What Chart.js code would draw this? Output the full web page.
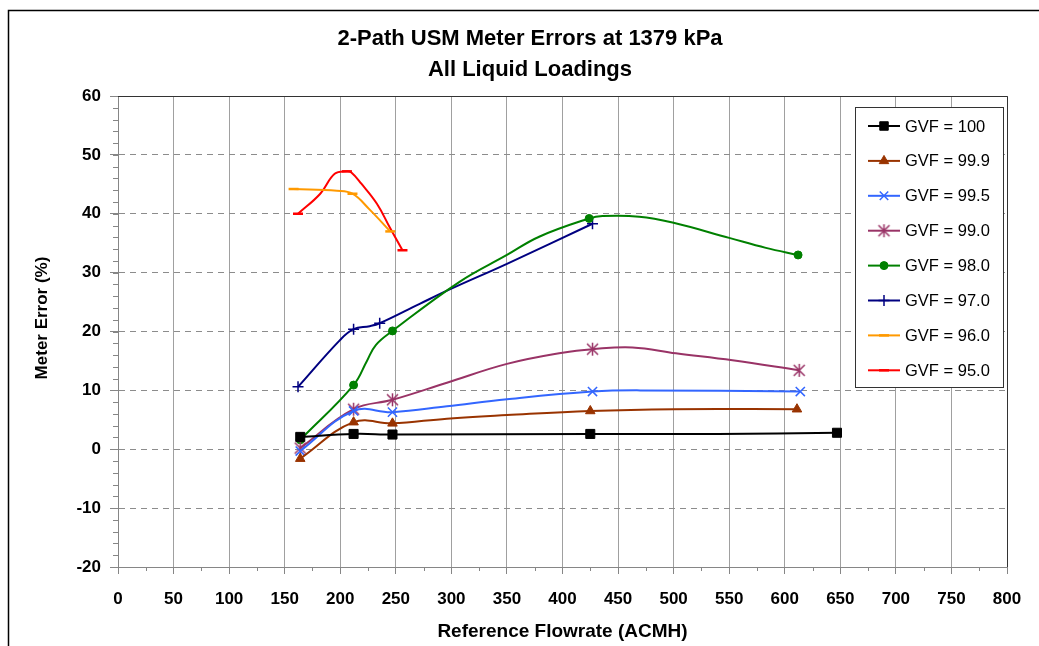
<!DOCTYPE html>
<html>
<head>
<meta charset="utf-8">
<script src="https://cdn.jsdelivr.net/npm/chart.js@4.4.0/dist/chart.umd.min.js"></script>
<style>
  body { margin: 0; background: #fff; }
</style>
</head>
<body>
<canvas id="myChart" width="1039" height="646"></canvas>
<script>
// flowrate (ACMH) / meter error (%) per GVF; mark = 1 where a measured point is drawn
let flow100 = [164, 212, 247, 425, 540, 647];
let err100  = [2.1, 2.6, 2.5, 2.6, 2.6, 2.8];
let mark100 = [1, 1, 1, 1, 0, 1];

let flow999 = [164, 212, 247, 296, 350, 425, 500, 611];
let err999  = [-1.6, 4.6, 4.4, 5.2, 5.8, 6.5, 6.8, 6.8];
let mark999 = [1, 1, 1, 0, 0, 1, 0, 1];

let flow995 = [164, 212, 247, 296, 350, 427, 470, 614];
let err995  = [-0.3, 6.5, 6.3, 7.3, 8.5, 9.8, 10.0, 9.8];
let mark995 = [1, 1, 1, 0, 0, 1, 0, 1];

let flow990 = [164, 212, 247, 296, 350, 400, 427, 463, 502, 553, 613];
let err990  = [0.2, 6.8, 8.4, 11.3, 14.5, 16.4, 17.0, 17.3, 16.3, 15.1, 13.4];
let mark990 = [1, 1, 1, 0, 0, 0, 1, 0, 0, 0, 1];

let flow980 = [164, 212, 224, 232, 247, 307, 350, 379, 424, 436, 469, 499, 550, 583, 612];
let err980  = [1.6, 10.9, 15.0, 17.7, 20.1, 28.4, 33.0, 36.1, 39.2, 39.6, 39.5, 38.5, 35.9, 34.2, 33.0];
let mark980 = [1, 1, 0, 0, 1, 0, 0, 0, 1, 0, 0, 0, 0, 0, 1];

let flow970 = [162, 199.5, 212, 226.5, 235.5, 271.5, 298, 350, 427];
let err970  = [10.6, 18.5, 20.4, 20.9, 21.4, 24.7, 27.1, 31.5, 38.3];
let mark970 = [1, 0, 1, 0, 1, 0, 0, 0, 1];

let flow960 = [158, 197, 211, 226.5, 245];
let err960  = [44.2, 43.9, 43.4, 40.7, 37.0];
let mark960 = [1, 0, 1, 0, 1];

let flow950 = [162, 182, 195, 206, 210, 219, 233, 244.5, 256];
let err950  = [40.0, 43.4, 46.8, 47.2, 47.0, 45.1, 41.7, 37.7, 33.8];
let mark950 = [1, 0, 0, 1, 0, 0, 0, 0, 1];

let xTicks = [0, 50, 100, 150, 200, 250, 300, 350, 400, 450, 500, 550, 600, 650, 700, 750, 800];
let yTicks = [-20, -10, 0, 10, 20, 30, 40, 50, 60];

// Excel style asterisk marker (x with a vertical bar)
function asterisk(color) {
    let cv = document.createElement('canvas');
    cv.width = 15;
    cv.height = 15;
    let g = cv.getContext('2d');
    g.strokeStyle = color;
    g.lineWidth = 1.5;
    g.beginPath();
    g.moveTo(2, 2); g.lineTo(13, 13);
    g.moveTo(13, 2); g.lineTo(2, 13);
    g.moveTo(7.5, 1); g.lineTo(7.5, 14);
    g.stroke();
    return cv;
}

function series(label, xs, ys, marks, color, style, radius, bw) {
    return {
        label: label,
        data: xs.map((x, i) => ({ x: x, y: ys[i] })),
        borderColor: color,
        backgroundColor: color,
        borderWidth: 2,
        pointStyle: style,
        pointRadius: marks.map(m => m ? radius : 0),
        pointHoverRadius: 0,
        pointBorderWidth: bw,
        pointBackgroundColor: color,
        pointBorderColor: color,
        tension: 0.4
    };
}

let datasets = [
    series('GVF = 100',  flow100, err100, mark100, '#000000', 'rect', 6.4, 1),
    series('GVF = 99.9', flow999, err999, mark999, '#993300', 'triangle', 5.5, 1),
    series('GVF = 99.5', flow995, err995, mark995, '#3366FF', 'crossRot', 6.5, 1.5),
    series('GVF = 99.0', flow990, err990, mark990, '#993366', asterisk('#993366'), 7, 1.5),
    series('GVF = 98.0', flow980, err980, mark980, '#008000', 'circle', 4, 1),
    series('GVF = 97.0', flow970, err970, mark970, '#000080', 'cross', 5.5, 1.5),
    series('GVF = 96.0', flow960, err960, mark960, '#FF9900', 'line', 5, 2.5),
    series('GVF = 95.0', flow950, err950, mark950, '#FF0000', 'line', 5, 2.5)
];

let FONT = "'Liberation Sans', Arial, sans-serif";

// frame, titles, minor ticks, plot border and legend box
let decorations = {
    id: 'decorations',
    beforeDraw(chart) {
        let c = chart.ctx;
        c.save();
        c.fillStyle = '#fff';
        c.fillRect(0, 0, chart.width, chart.height);
        c.strokeStyle = '#000';
        c.lineWidth = 1.5;
        c.beginPath();
        c.moveTo(8.5, chart.height);
        c.lineTo(8.5, 10.5);
        c.lineTo(chart.width, 10.5);
        c.stroke();
        c.restore();
    },
    afterDatasetsDraw(chart) {
        let c = chart.ctx;
        let a = chart.chartArea;
        let xs = chart.scales.x, ys = chart.scales.y;
        c.save();

        // minor ticks
        c.strokeStyle = '#868686';
        c.lineWidth = 1;
        c.beginPath();
        for (let v = -20; v <= 60; v += 2) {
            let py = Math.round(ys.getPixelForValue(v)) + 0.5;
            c.moveTo(a.left - 5, py);
            c.lineTo(a.left, py);
        }
        for (let v = 25; v < 800; v += 50) {
            let px = Math.round(xs.getPixelForValue(v)) + 0.5;
            c.moveTo(px, a.bottom);
            c.lineTo(px, a.bottom + 4);
        }
        c.stroke();

        // top and right border of plot area
        c.strokeStyle = '#333';
        c.beginPath();
        c.moveTo(a.left, Math.round(a.top) + 0.5);
        c.lineTo(Math.round(a.right) + 0.5, Math.round(a.top) + 0.5);
        c.lineTo(Math.round(a.right) + 0.5, a.bottom);
        c.stroke();

        // title
        c.fillStyle = '#000';
        c.textAlign = 'center';
        c.textBaseline = 'middle';
        c.font = 'bold 22px ' + FONT;
        c.fillText('2-Path USM Meter Errors at 1379 kPa', 530, 39);
        c.fillText('All Liquid Loadings', 530, 70);

        // y axis title
        c.save();
        c.translate(42, 318);
        c.rotate(-Math.PI / 2);
        c.font = 'bold 17px ' + FONT;
        c.fillText('Meter Error (%)', 0, 0);
        c.restore();

        // legend
        let bx = 855.5, by = 107.5, bw = 148, bh = 280;
        c.fillStyle = '#fff';
        c.fillRect(bx, by, bw, bh);
        c.strokeStyle = '#333';
        c.lineWidth = 1;
        c.strokeRect(bx, by, bw, bh);
        c.font = '16.5px ' + FONT;
        c.textAlign = 'left';
        chart.data.datasets.forEach((ds, i) => {
            let ly = 126 + i * 34.9;
            c.strokeStyle = ds.borderColor;
            c.lineWidth = 2;
            c.beginPath();
            c.moveTo(868, ly);
            c.lineTo(900, ly);
            c.stroke();
            c.fillStyle = ds.borderColor;
            c.lineWidth = ds.pointBorderWidth;
            Chart.helpers.drawPoint(c, {
                pointStyle: ds.pointStyle,
                radius: Math.min(Math.max.apply(null, ds.pointRadius), 6),
                rotation: 0,
                borderWidth: ds.pointBorderWidth
            }, 884, ly);
            c.fillStyle = '#000';
            c.fillText(ds.label, 905, ly + 1);
        });
        c.restore();
    }
};

let myChart = document.getElementById('myChart').getContext('2d');
let chart = new Chart(myChart, {
    type: 'line',
    data: { datasets: datasets },
    plugins: [decorations],
    options: {
        responsive: false,
        animation: false,
        events: [],
        layout: { padding: { top: 96, right: 32, left: 0, bottom: 0 } },
        plugins: {
            legend: { display: false },
            tooltip: { enabled: false },
            title: { display: false }
        },
        scales: {
            x: {
                type: 'linear',
                min: 0,
                max: 800,
                afterBuildTicks: s => { s.ticks = xTicks.map(v => ({ value: v })); },
                afterFit: s => { s.height = 79; },
                grid: { color: '#a0a0a0', tickColor: '#868686', tickLength: 7, tickBorderDash: [] },
                border: { color: '#868686' },
                ticks: {
                    padding: 15,
                    maxRotation: 0,
                    color: '#000',
                    font: { family: FONT, size: 17, weight: 'bold' }
                },
                title: {
                    display: true,
                    text: 'Reference Flowrate (ACMH)',
                    color: '#000',
                    padding: { top: 0, bottom: 3 },
                    font: { family: FONT, size: 19, weight: 'bold' }
                }
            },
            y: {
                type: 'linear',
                min: -20,
                max: 60,
                afterBuildTicks: s => { s.ticks = yTicks.map(v => ({ value: v })); },
                afterFit: s => { s.width = 118; },
                grid: { color: '#8c8c8c', tickColor: '#868686', tickLength: 8, tickBorderDash: [] },
                border: { color: '#868686', dash: [6, 5] },
                ticks: {
                    padding: 9,
                    color: '#000',
                    font: { family: FONT, size: 17, weight: 'bold' }
                }
            }
        }
    }
});
</script>
</body>
</html>
